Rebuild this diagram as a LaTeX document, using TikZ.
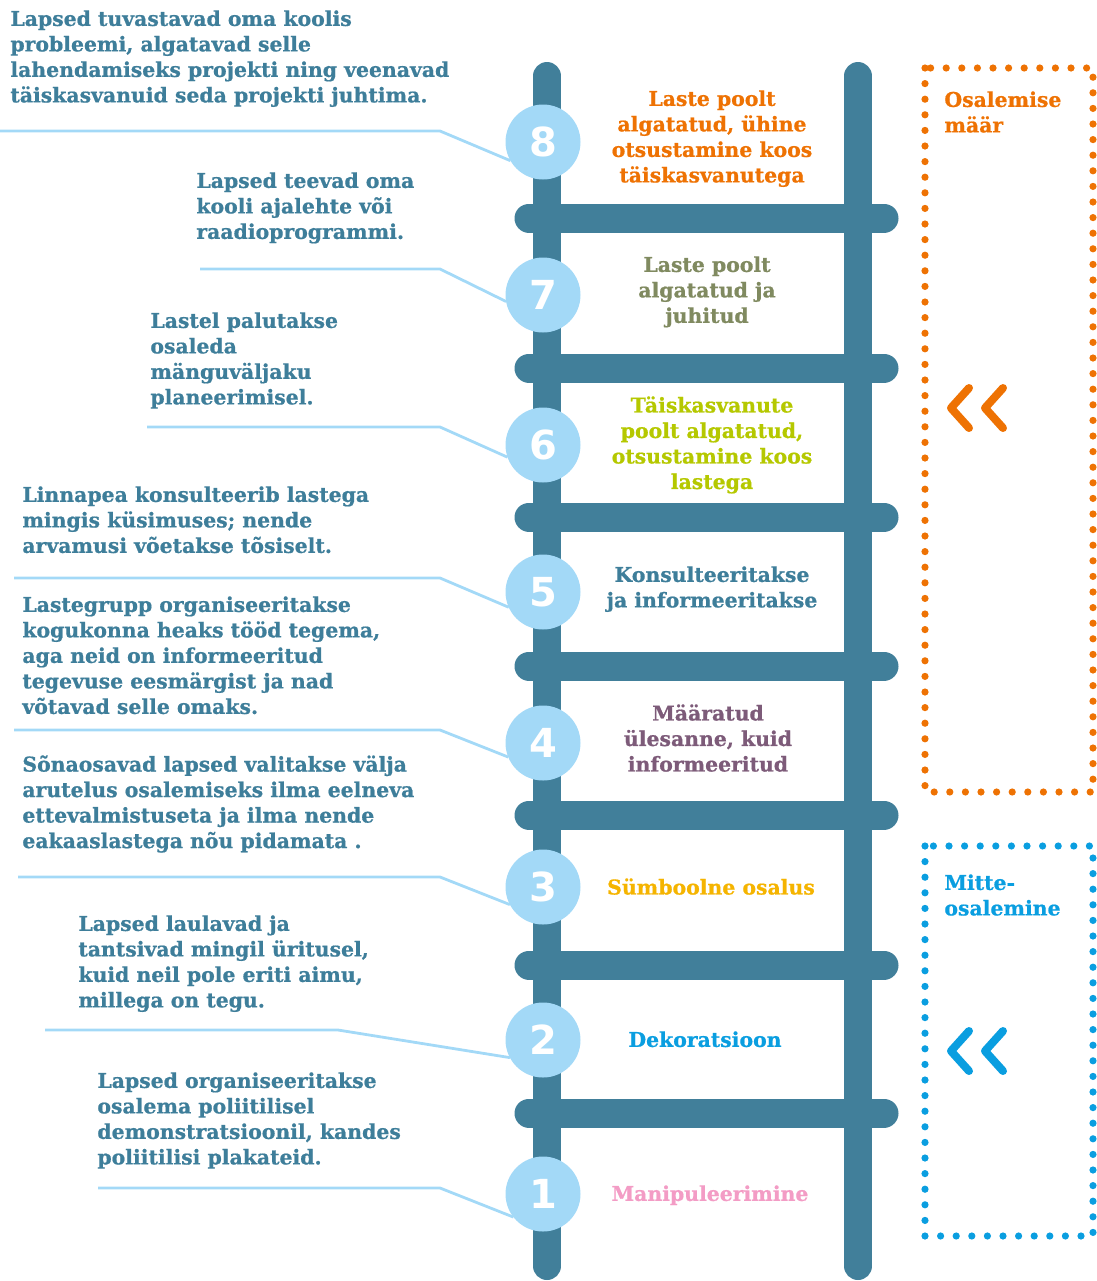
\documentclass[tikz,border=0pt]{standalone}
\usepackage{fontspec}
\setmainfont{DejaVu Serif}[BoldFeatures={FakeBold=0.8}]
\newfontfamily\numfont{DejaVu Sans}
\usepackage{tikz}
\usetikzlibrary{calc}
\definecolor{railblue}{RGB}{65,127,154}
\definecolor{circleblue}{RGB}{163,217,247}
\definecolor{textteal}{RGB}{62,126,154}
\definecolor{lvlorange}{RGB}{238,114,3}
\definecolor{lvlolive}{RGB}{128,138,96}
\definecolor{lvllime}{RGB}{181,200,0}
\definecolor{lvlpurple}{RGB}{125,91,121}
\definecolor{lvlyellow}{RGB}{245,180,0}
\definecolor{lvlblue}{RGB}{10,158,224}
\definecolor{lvlpink}{RGB}{243,156,197}
\tikzset{
  stepnum/.style={circle,fill=circleblue,minimum size=37.5pt,inner sep=0pt,outer sep=0pt,
    text=white,font=\numfont\bfseries\fontsize{20}{20}\selectfont},
  linkline/.style={circleblue,line width=1.4pt},
  desctext/.style={anchor=north west,inner sep=0pt,align=left,text=textteal,
    font=\bfseries\fontsize{10.2}{12.75}\selectfont},
  lvltext/.style={anchor=north,inner sep=0pt,align=center,
    font=\bfseries\fontsize{10.2}{12.75}\selectfont},
  dotframe/.style={line width=3.6pt,line cap=round,dash pattern=on 0pt off 7.8pt},
  chevron/.style={line width=4pt,line cap=round,line join=round}
}
% #1 number, #2 circle y, #3 start x, #4 link y, #5 bend x, #6 end angle
\newcommand{\ladderstep}[6]{%
  \coordinate (ls#1) at (#3,#4);%
  \coordinate (lb#1) at (#5,#4);%
  \node[stepnum] (n#1) at (543,#2) {#1};%
  \draw[linkline] (ls#1) -- (lb#1) -- (n#1.#6);%
}
% #1 name, #2 x, #3 y, #4 colour
\newcommand{\chevronpair}[4]{%
  \coordinate (#1) at (#2,#3);%
  \draw[chevron,#4] ($(#1)+(18,-20)$) -- (#1) -- ($(#1)+(18,20)$);%
  \draw[chevron,#4] ($(#1)+(52,-20)$) -- ($(#1)+(34,0)$) -- ($(#1)+(52,20)$);%
}
\begin{document}
\begin{tikzpicture}[x=0.5pt,y=-0.5pt]
  \useasboundingbox (0,0) rectangle (1097,1281);
  % ladder
  \draw[railblue,line width=14pt,line cap=round] (547,76) -- (547,1266);
  \draw[railblue,line width=14pt,line cap=round] (858,76) -- (858,1266);
  \foreach \y in {218,368,517,666,815,965,1113}
    \draw[railblue,line width=14.5pt,line cap=round] (529,\y) -- (884,\y);
  % steps
  \ladderstep{8}{142}{0}{131}{440}{210}
  \ladderstep{7}{295}{200}{269}{440}{190}
  \ladderstep{6}{445}{147}{427}{440}{199}
  \ladderstep{5}{592}{14}{578}{440}{204}
  \ladderstep{4}{743}{14}{730}{440}{202}
  \ladderstep{3}{887}{18}{877}{440}{208}
  \ladderstep{2}{1040}{45}{1030}{338}{208}
  \ladderstep{1}{1194}{98}{1188}{440}{218}
  % examples
  \node[desctext] (d8) at (10,10) {Lapsed tuvastavad oma koolis\\probleemi, algatavad selle\\lahendamiseks projekti ning veenavad\\täiskasvanuid seda projekti juhtima.};
  \node[desctext] (d7) at (196,172) {Lapsed teevad oma\\kooli ajalehte või\\raadioprogrammi.};
  \node[desctext] (d6) at (150,312) {Lastel palutakse\\osaleda\\mänguväljaku\\planeerimisel.};
  \node[desctext] (d5) at (22,486) {Linnapea konsulteerib lastega\\mingis küsimuses; nende\\arvamusi võetakse tõsiselt.};
  \node[desctext] (d4) at (22,596) {Lastegrupp organiseeritakse\\kogukonna heaks tööd tegema,\\aga neid on informeeritud\\tegevuse eesmärgist ja nad\\võtavad selle omaks.};
  \node[desctext] (d3) at (22,755) {Sõnaosavad lapsed valitakse välja\\arutelus osalemiseks ilma eelneva\\ettevalmistuseta ja ilma nende\\eakaaslastega nõu pidamata .};
  \node[desctext] (d2) at (78,915) {Lapsed laulavad ja\\tantsivad mingil üritusel,\\kuid neil pole eriti aimu,\\millega on tegu.};
  \node[desctext] (d1) at (97,1072) {Lapsed organiseeritakse\\osalema poliitilisel\\demonstratsioonil, kandes\\poliitilisi plakateid.};
  % levels
  \node[lvltext,text=lvlorange] (l8) at (712,90) {Laste poolt\\algatatud, ühine\\otsustamine koos\\täiskasvanutega};
  \node[lvltext,text=lvlolive] (l7) at (707,256) {Laste poolt\\algatatud ja\\juhitud};
  \node[lvltext,text=lvllime] (l6) at (712,396) {Täiskasvanute\\poolt algatatud,\\otsustamine koos\\lastega};
  \node[lvltext,text=textteal] (l5) at (712,566) {Konsulteeritakse\\ja informeeritakse};
  \node[lvltext,text=lvlpurple] (l4) at (708,704) {Määratud\\ülesanne, kuid\\informeeritud};
  \node[lvltext,text=lvlyellow] (l3) at (711,878) {Sümboolne osalus};
  \node[lvltext,text=lvlblue] (l2) at (705,1031) {Dekoratsioon};
  \node[lvltext,text=lvlpink] (l1) at (710,1185) {Manipuleerimine};
  % participation frames
  \draw[dotframe,lvlorange] (925,68) rectangle (1093,792);
  \node[desctext,text=lvlorange] (fo) at (944,91) {Osalemise\\määr};
  \chevronpair{ko}{951}{408}{lvlorange}
  \draw[dotframe,lvlblue] (925,846) rectangle (1093,1236);
  \node[desctext,text=lvlblue] (fb) at (944,874) {Mitte-\\osalemine};
  \chevronpair{kb}{951}{1051}{lvlblue}
\end{tikzpicture}
\end{document}
